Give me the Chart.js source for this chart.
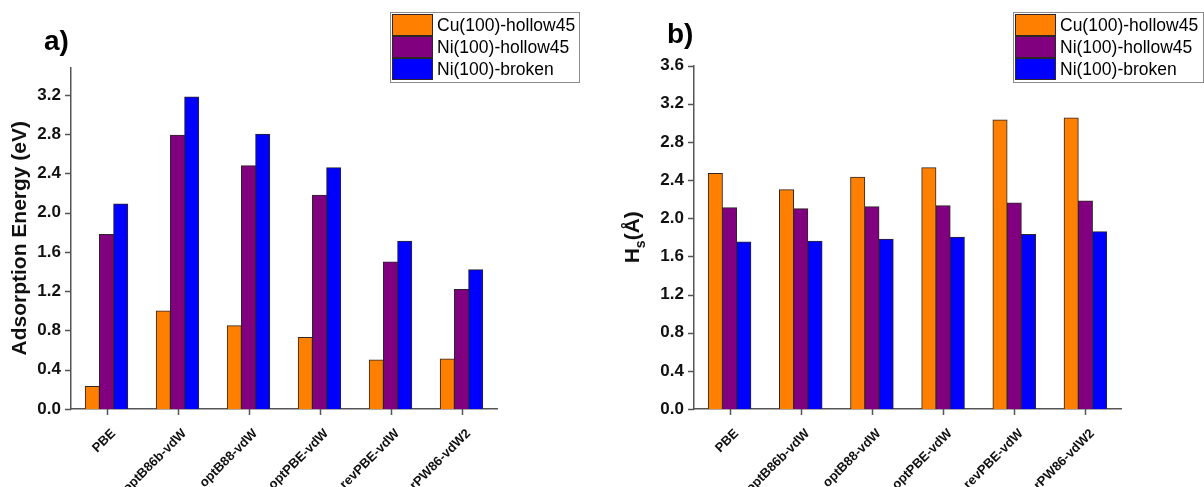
<!DOCTYPE html>
<html>
<head>
<meta charset="utf-8">
<script src="https://cdn.jsdelivr.net/npm/chart.js@4/dist/chart.umd.min.js"></script>
<style>
  html, body { margin: 0; padding: 0; background: #fff; }
  #wrap { position: relative; width: 1204px; height: 487px; overflow: hidden; }
  .panel { position: absolute; top: 0; width: 602px; height: 487px; }
  #panelA { left: 0; }
  #panelB { left: 602px; }
</style>
</head>
<body>
<div id="wrap">
  <div class="panel" id="panelA"><canvas id="chartA" width="602" height="487"></canvas></div>
  <div class="panel" id="panelB"><canvas id="chartB" width="602" height="487"></canvas></div>
</div>
<script>
// Exchange-correlation functionals compared on the x axis
const methods = ['PBE', 'optB86b-vdW', 'optB88-vdW', 'optPBE-vdW', 'revPBE-vdW', 'rPW86-vdW2'];
const seriesNames = ['Cu(100)-hollow45', 'Ni(100)-hollow45', 'Ni(100)-broken'];
const seriesColors = ['#FF8000', '#800080', '#0000FF'];

// a) adsorption energy (eV)
const energyCuHollow = [0.23, 1.00, 0.85, 0.73, 0.50, 0.51];
const energyNiHollow = [1.78, 2.79, 2.48, 2.18, 1.50, 1.22];
const energyNiBroken = [2.09, 3.18, 2.80, 2.46, 1.71, 1.42];

// b) adsorption height H_s (Å)
const heightCuHollow = [2.47, 2.30, 2.43, 2.53, 3.03, 3.05];
const heightNiHollow = [2.11, 2.10, 2.12, 2.13, 2.16, 2.18];
const heightNiBroken = [1.75, 1.76, 1.78, 1.80, 1.83, 1.86];

// labelled y ticks
const energyTickLabels = [0.0, 0.4, 0.8, 1.2, 1.6, 2.0, 2.4, 2.8, 3.2];
const heightTickLabels = [0.0, 0.4, 0.8, 1.2, 1.6, 2.0, 2.4, 2.8, 3.2, 3.6];

const FONT = "'Liberation Sans', Arial, Helvetica, sans-serif";
const AXIS_COLOR = '#555555';
const TEXT_COLOR = '#111111';

function makeDatasets(values) {
  return values.map((v, i) => ({
    label: seriesNames[i],
    data: v,
    backgroundColor: seriesColors[i],
    borderColor: '#2e2626',
    borderWidth: 1,
    borderSkipped: 'start',
    inflateAmount: 0.4,
    categoryPercentage: 0.6,
    barPercentage: 1.0
  }));
}

function isLabelled(value, list) {
  return list.some(t => Math.abs(t - value) < 1e-6);
}

// tick marks: major (labelled) and minor on y, one per category on x
const tickMarks = {
  id: 'tickMarks',
  afterDraw(chart, args, opts) {
    const ctx = chart.ctx;
    const ys = chart.scales.y, xs = chart.scales.x;
    const area = chart.chartArea;
    ctx.save();
    ctx.strokeStyle = AXIS_COLOR;
    ctx.lineWidth = 1.5;
    ctx.beginPath();
    ys.ticks.forEach(t => {
      const py = Math.round(ys.getPixelForValue(t.value)) + 0.5;
      const len = isLabelled(t.value, opts.labels) ? 6 : 4;
      ctx.moveTo(area.left - len, py);
      ctx.lineTo(area.left, py);
    });
    xs.ticks.forEach((t, i) => {
      const px = Math.round(xs.getPixelForTick(i)) + 0.5;
      ctx.moveTo(px, area.bottom);
      ctx.lineTo(px, area.bottom + 6);
    });
    ctx.stroke();
    ctx.restore();
  }
};

// boxed legend in the upper right and panel letter
const boxedLegend = {
  id: 'boxedLegend',
  afterDraw(chart, args, opts) {
    const ctx = chart.ctx;
    const {x, y, w, rowH, swW, letter, letterX, letterY} = opts;
    ctx.save();
    const h = rowH * chart.data.datasets.length + 4;
    ctx.fillStyle = '#ffffff';
    ctx.fillRect(x, y, w, h);
    ctx.strokeStyle = '#8a8a8a';
    ctx.lineWidth = 1;
    ctx.strokeRect(x + 0.5, y + 0.5, w, h);
    ctx.font = '17.5px ' + FONT;
    ctx.textBaseline = 'middle';
    ctx.textAlign = 'left';
    chart.data.datasets.forEach((ds, i) => {
      const ry = y + 2 + i * rowH;
      ctx.fillStyle = ds.backgroundColor;
      ctx.fillRect(x + 2.5, ry + 0.5, swW, rowH - 1);
      ctx.strokeStyle = '#2e2626';
      ctx.strokeRect(x + 2.5, ry + 0.5, swW, rowH - 1);
      ctx.fillStyle = '#000000';
      ctx.fillText(ds.label, x + swW + 7, ry + rowH / 2 + 1);
    });
    ctx.font = 'bold 28px ' + FONT;
    ctx.fillStyle = '#000000';
    ctx.textBaseline = 'alphabetic';
    ctx.fillText(letter, letterX, letterY);
    ctx.restore();
  }
};

// H_s(Å) title with a subscript s, written bottom-to-top
const heightTitle = {
  id: 'heightTitle',
  afterDraw(chart, args, opts) {
    const ctx = chart.ctx;
    const area = chart.chartArea;
    const parts = [
      {t: 'H', font: 'bold 21px ' + FONT, dy: 0},
      {t: 's', font: 'bold 14px ' + FONT, dy: 6},
      {t: '(Å)', font: 'bold 21px ' + FONT, dy: 0}
    ];
    ctx.save();
    let total = 0;
    parts.forEach(p => { ctx.font = p.font; p.w = ctx.measureText(p.t).width; total += p.w; });
    ctx.translate(opts.x, (area.top + area.bottom) / 2);
    ctx.rotate(-Math.PI / 2);
    ctx.fillStyle = TEXT_COLOR;
    ctx.textBaseline = 'alphabetic';
    let cx = -total / 2;
    parts.forEach(p => {
      ctx.font = p.font;
      ctx.fillText(p.t, cx, 7.5 + p.dy);
      cx += p.w;
    });
    ctx.restore();
  }
};

function buildOptions(cfg) {
  return {
    responsive: false,
    animation: false,
    layout: { padding: { top: cfg.top, right: cfg.right, bottom: 0, left: 0 } },
    plugins: {
      legend: { display: false },
      tooltip: { enabled: false },
      tickMarks: { labels: cfg.tickLabels },
      boxedLegend: cfg.legend,
      heightTitle: { x: cfg.titleX || 0 }
    },
    scales: {
      x: {
        type: 'category',
        offset: true,
        grid: { display: false, drawTicks: false },
        border: { display: true, color: AXIS_COLOR, width: 1.5 },
        ticks: {
          autoSkip: false,
          minRotation: 45,
          maxRotation: 45,
          padding: 17,
          labelOffset: 7,
          color: TEXT_COLOR,
          font: { family: FONT, size: 13, weight: 'bold' }
        },
        afterFit(s) { s.height = 78; }
      },
      y: {
        min: 0,
        max: cfg.max,
        grid: { display: false, drawTicks: false },
        border: { display: true, color: AXIS_COLOR, width: 1.5 },
        ticks: {
          stepSize: 0.2,
          padding: 10,
          color: TEXT_COLOR,
          font: { family: FONT, size: 17, weight: 'bold' },
          callback(v) { return isLabelled(v, cfg.tickLabels) ? Number(v).toFixed(1) : ''; }
        },
        afterBuildTicks(s) {
          s.ticks = s.ticks.filter(t => Math.abs(t.value / 0.2 - Math.round(t.value / 0.2)) < 1e-6);
        },
        title: cfg.yTitle ? {
          display: true,
          text: cfg.yTitle,
          color: TEXT_COLOR,
          font: { family: FONT, size: 21, weight: 'bold' },
          padding: { top: 8, bottom: 0 }
        } : { display: false },
        afterFit(s) { s.width = cfg.axisLeft; }
      }
    }
  };
}

new Chart(document.getElementById('chartA'), {
  type: 'bar',
  data: { labels: methods, datasets: makeDatasets([energyCuHollow, energyNiHollow, energyNiBroken]) },
  options: buildOptions({
    top: 67.5, right: 105, max: 3.48, axisLeft: 71,
    tickLabels: energyTickLabels,
    yTitle: 'Adsorption Energy (eV)',
    legend: { x: 390, y: 12, w: 189, rowH: 22, swW: 40, letter: 'a)', letterX: 44, letterY: 50 }
  }),
  plugins: [tickMarks, boxedLegend]
});

new Chart(document.getElementById('chartB'), {
  type: 'bar',
  data: { labels: methods, datasets: makeDatasets([heightCuHollow, heightNiHollow, heightNiBroken]) },
  options: buildOptions({
    top: 65.5, right: 83, max: 3.6, axisLeft: 92,
    tickLabels: heightTickLabels,
    titleX: 29,
    legend: { x: 411, y: 12, w: 190, rowH: 22, swW: 40, letter: 'b)', letterX: 65, letterY: 43 }
  }),
  plugins: [tickMarks, boxedLegend, heightTitle]
});
</script>
</body>
</html>
